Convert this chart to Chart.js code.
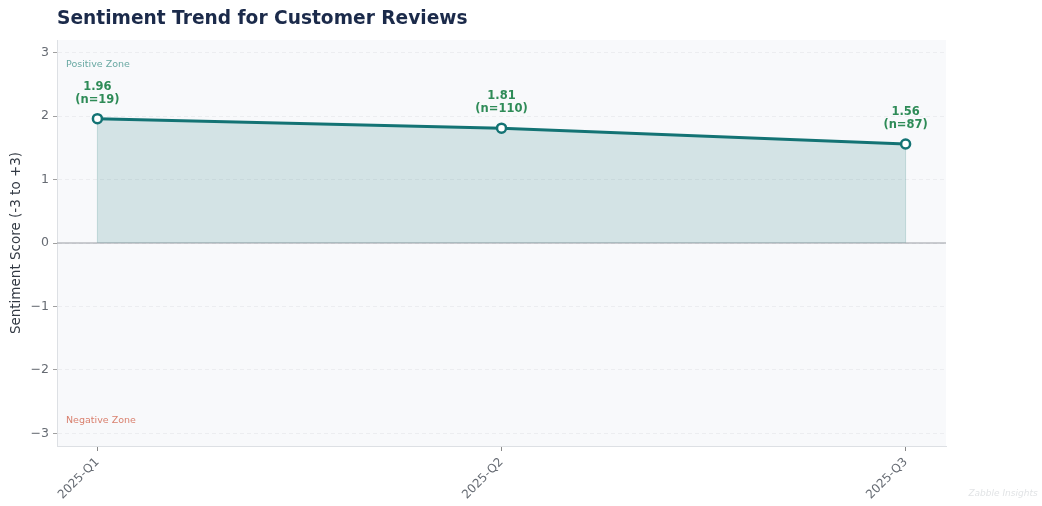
<!DOCTYPE html>
<html>
<head>
<meta charset="utf-8">
<script src="https://cdn.jsdelivr.net/npm/chart.js@4.4.1/dist/chart.umd.min.js"></script>
<style>
  html, body { margin: 0; padding: 0; background: #fff; }
  #wrap { width: 1042px; height: 506px; }
</style>
</head>
<body>
<div id="wrap"><canvas id="trend" width="1042" height="506"></canvas></div>
<script>
const quarters = ["2025-Q1", "2025-Q2", "2025-Q3"];
const scores = [1.96, 1.81, 1.56];
const counts = [19, 110, 87];
const yTicks = [-3, -2, -1, 0, 1, 2, 3];

const teal = "#137374";
const font = "DejaVu Sans";

// fond gris clair + ligne du zéro + textes
const extras = {
  id: "extras",
  beforeDraw(chart) {
    const { ctx, chartArea: a } = chart;
    ctx.save();
    ctx.fillStyle = "#f8f9fb";
    ctx.fillRect(a.left, a.top, a.right - a.left, a.bottom - a.top);
    ctx.restore();
  },
  beforeDatasetsDraw(chart) {
    const { ctx, chartArea: a, scales } = chart;
    const y0 = scales.y.getPixelForValue(0);
    ctx.save();
    // bords verticaux de la zone remplie
    ctx.strokeStyle = "rgba(19,115,116,0.22)";
    ctx.lineWidth = 1;
    [0, scores.length - 1].forEach(i => {
      const px = scales.x.getPixelForValue(i);
      ctx.beginPath();
      ctx.moveTo(px, y0);
      ctx.lineTo(px, scales.y.getPixelForValue(scores[i]));
      ctx.stroke();
    });
    ctx.strokeStyle = "#9a9ea3";
    ctx.lineWidth = 1.2;
    ctx.beginPath();
    ctx.moveTo(a.left, y0);
    ctx.lineTo(a.right, y0);
    ctx.stroke();
    ctx.restore();
  },
  afterDraw(chart) {
    const { ctx, chartArea: a, scales } = chart;
    ctx.save();
    // titre
    ctx.fillStyle = "#1b2a4a";
    ctx.font = "bold 18.6px '" + font + "'";
    ctx.textBaseline = "middle";
    ctx.textAlign = "left";
    ctx.fillText("Sentiment Trend for Customer Reviews", 57, 19);

    // zones
    ctx.font = "9.5px '" + font + "'";
    ctx.fillStyle = "#6aa9a3";
    ctx.fillText("Positive Zone", a.left + 9, 65);
    ctx.fillStyle = "#d9806e";
    ctx.fillText("Negative Zone", a.left + 9, 421);

    // étiquettes des points
    ctx.font = "bold 11.5px '" + font + "'";
    ctx.fillStyle = "#2e8b57";
    ctx.textAlign = "center";
    scores.forEach((v, i) => {
      const px = scales.x.getPixelForValue(i);
      const py = scales.y.getPixelForValue(v);
      ctx.fillText(v.toFixed(2), px, py - 32);
      ctx.fillText("(n=" + counts[i] + ")", px, py - 19);
    });

    // filigrane
    ctx.font = "italic 9px '" + font + "'";
    ctx.fillStyle = "#e2e4e6";
    ctx.fillText("Zabble Insights", 1003, 494);
    ctx.restore();
  }
};

new Chart(document.getElementById("trend"), {
  type: "line",
  data: {
    datasets: [{
      data: scores.map((v, i) => ({ x: i, y: v })),
      borderColor: teal,
      borderWidth: 3,
      backgroundColor: "rgba(19,115,116,0.16)",
      fill: "origin",
      tension: 0,
      pointRadius: 4.5,
      pointBorderWidth: 2.5,
      pointBackgroundColor: "#ffffff",
      pointBorderColor: teal
    }]
  },
  options: {
    responsive: false,
    animation: false,
    layout: { padding: { left: 8, right: 96, top: 40, bottom: 0 } },
    plugins: {
      legend: { display: false },
      tooltip: { enabled: false }
    },
    scales: {
      x: {
        type: "linear",
        min: -0.1,
        max: 2.1,
        afterBuildTicks(scale) { scale.ticks = quarters.map((q, i) => ({ value: i })); },
        afterFit(scale) { scale.height = 60; },
        ticks: {
          callback: (v) => quarters[v],
          maxRotation: 45,
          minRotation: 45,
          color: "#666b73",
          font: { family: font, size: 12 },
          padding: 4
        },
        grid: { drawOnChartArea: false, tickLength: 5, tickColor: "#888" },
        border: { color: "#dde0e4", width: 1 }
      },
      y: {
        min: -3.2,
        max: 3.2,
        afterBuildTicks(scale) { scale.ticks = yTicks.map(v => ({ value: v })); },
        afterFit(scale) { scale.width = 49; },
        ticks: {
          callback: (v) => v < 0 ? "\u2212" + Math.abs(v) : String(v),
          color: "#666b73",
          font: { family: font, size: 12.5 },
          padding: 4
        },
        title: {
          display: true,
          text: "Sentiment Score (-3 to +3)",
          color: "#333a44",
          font: { family: font, size: 13.5 },
          padding: { top: 0, bottom: 2 }
        },
        grid: { color: "#e8eaed", tickLength: 4, tickColor: "#888", lineWidth: 0.8 },
        border: { color: "#dde0e4", width: 1, dash: [4, 3] }
      }
    }
  },
  plugins: [extras]
});
</script>
</body>
</html>
